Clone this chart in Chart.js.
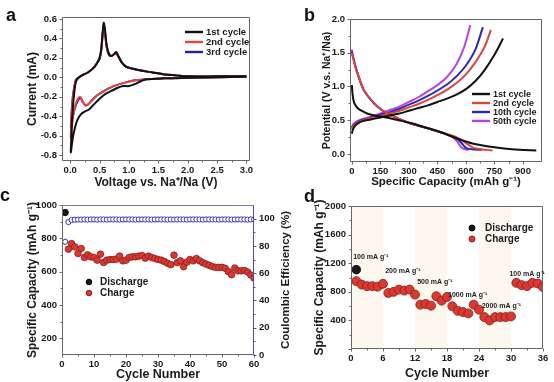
<!DOCTYPE html>
<html><head><meta charset="utf-8">
<script src="https://cdn.jsdelivr.net/npm/chart.js@4.4.1/dist/chart.umd.min.js"></script>
<style>
html,body{margin:0;padding:0;background:#fff;}
#wrap{position:relative;width:554px;height:382px;overflow:hidden;background:#fff;}
canvas{position:absolute;}
.lbl{position:absolute;font:bold 18px "Liberation Sans",Arial,sans-serif;color:#111;line-height:20px;}
</style></head><body>
<div id="wrap">
<canvas id="ca" width="277" height="191" style="left:0;top:0"></canvas>
<canvas id="cb" width="277" height="191" style="left:277px;top:0"></canvas>
<canvas id="cd" width="258" height="191" style="left:296px;top:191px"></canvas>
<canvas id="cc" width="300" height="191" style="left:0;top:191px"></canvas>
<div class="lbl" style="left:6px;top:5px">a</div>
<div class="lbl" style="left:304px;top:5px">b</div>
<div class="lbl" style="left:0px;top:185px">c</div>
<div class="lbl" style="left:304px;top:186px">d</div>
</div>
<script>
// ---------- Panel a: CV curves ----------
const cvV1 = [3.0, 2.5, 2.0, 1.6, 1.3, 1.2, 1.1, 1.0, 0.9, 0.8, 0.7, 0.6, 0.5, 0.4, 0.32, 0.25, 0.18, 0.12, 0.08, 0.05, 0.03, 0.01,
              0.02, 0.04, 0.07, 0.1, 0.15, 0.2, 0.3, 0.4, 0.45, 0.5, 0.53, 0.55, 0.57, 0.59, 0.62, 0.66, 0.7, 0.75, 0.78, 0.82, 0.88, 0.95, 1.05, 1.2, 1.4, 1.6, 1.8, 2.0, 2.5, 3.0];
const cvI1 = [0.005, 0.0, -0.005, -0.01, -0.02, -0.04, -0.07, -0.09, -0.09, -0.11, -0.14, -0.17, -0.22, -0.28, -0.33, -0.35, -0.38, -0.44, -0.52, -0.6, -0.68, -0.77,
              -0.6, -0.35, -0.15, -0.04, 0.0, 0.02, 0.05, 0.1, 0.14, 0.2, 0.3, 0.45, 0.56, 0.5, 0.33, 0.24, 0.22, 0.24, 0.26, 0.22, 0.15, 0.11, 0.09, 0.07, 0.05, 0.03, 0.02, 0.01, 0.01, 0.01];
const cvV2 = [3.0, 2.5, 2.0, 1.6, 1.3, 1.1, 0.9, 0.7, 0.55, 0.45, 0.35, 0.3, 0.25, 0.2, 0.17, 0.13, 0.09, 0.05, 0.03, 0.01,
              0.02, 0.04, 0.07, 0.1, 0.15, 0.2, 0.3, 0.4, 0.45, 0.5, 0.53, 0.55, 0.57, 0.59, 0.62, 0.66, 0.7, 0.75, 0.78, 0.82, 0.88, 0.95, 1.05, 1.2, 1.4, 1.6, 1.8, 2.0, 2.5, 3.0];
const cvI2 = [0.005, 0.0, -0.005, -0.01, -0.02, -0.03, -0.06, -0.1, -0.15, -0.19, -0.25, -0.28, -0.28, -0.24, -0.2, -0.22, -0.28, -0.4, -0.5, -0.62,
              -0.45, -0.25, -0.1, -0.03, 0.0, 0.02, 0.05, 0.1, 0.14, 0.2, 0.3, 0.44, 0.54, 0.48, 0.32, 0.24, 0.22, 0.24, 0.25, 0.21, 0.15, 0.11, 0.09, 0.07, 0.05, 0.03, 0.02, 0.01, 0.01, 0.01];
const cvV3 = [3.0, 2.5, 2.0, 1.6, 1.3, 1.1, 0.9, 0.7, 0.55, 0.45, 0.35, 0.3, 0.26, 0.21, 0.18, 0.14, 0.1, 0.06, 0.03, 0.01,
              0.02, 0.04, 0.07, 0.1, 0.15, 0.2, 0.3, 0.4, 0.45, 0.5, 0.53, 0.55, 0.57, 0.59, 0.62, 0.66, 0.7, 0.75, 0.78, 0.82, 0.88, 0.95, 1.05, 1.2, 1.4, 1.6, 1.8, 2.0, 2.5, 3.0];
const cvI3 = [0.005, 0.0, -0.005, -0.01, -0.02, -0.03, -0.06, -0.1, -0.15, -0.19, -0.25, -0.28, -0.29, -0.25, -0.21, -0.23, -0.28, -0.36, -0.45, -0.52,
              -0.4, -0.22, -0.09, -0.02, 0.0, 0.02, 0.05, 0.1, 0.14, 0.19, 0.28, 0.42, 0.52, 0.46, 0.31, 0.23, 0.22, 0.24, 0.25, 0.21, 0.15, 0.11, 0.09, 0.07, 0.05, 0.03, 0.02, 0.01, 0.01, 0.01];
const aXTicks = [0, 0.5, 1.0, 1.5, 2.0, 2.5, 3.0];
const aYTicks = [-0.8, -0.6, -0.4, -0.2, 0.0, 0.2, 0.4, 0.6];

// ---------- Panel b: charge/discharge profiles ----------
const b1DisCap = [0, 3, 8, 15, 30, 50, 80, 120, 160, 200, 260, 320, 400, 480, 560, 640, 720, 800, 880, 970];
const b1DisV   = [1.02, 0.9, 0.8, 0.74, 0.68, 0.64, 0.6, 0.57, 0.55, 0.53, 0.49, 0.45, 0.38, 0.31, 0.22, 0.15, 0.11, 0.08, 0.06, 0.05];
const b1ChgCap = [0, 5, 15, 30, 60, 100, 150, 200, 250, 300, 350, 400, 450, 500, 550, 600, 650, 700, 750, 795];
const b1ChgV   = [0.30, 0.36, 0.41, 0.45, 0.49, 0.51, 0.54, 0.57, 0.6, 0.64, 0.68, 0.72, 0.77, 0.82, 0.88, 0.96, 1.08, 1.25, 1.47, 1.71];
const b2DisCap = [0, 4, 10, 20, 35, 60, 100, 135, 185, 240, 310, 400, 480, 540, 580, 610, 640, 680, 740];
const b2DisV   = [1.50, 1.45, 1.38, 1.27, 1.15, 0.96, 0.8, 0.7, 0.6, 0.53, 0.45, 0.38, 0.31, 0.26, 0.2, 0.14, 0.09, 0.07, 0.05];
const b2ChgCap = [0, 5, 15, 30, 60, 100, 150, 200, 250, 300, 350, 400, 450, 500, 550, 600, 650, 700, 731];
const b2ChgV   = [0.36, 0.4, 0.43, 0.46, 0.5, 0.53, 0.56, 0.6, 0.64, 0.69, 0.74, 0.8, 0.87, 0.95, 1.05, 1.18, 1.36, 1.6, 1.84];
const b10DisCap = [0, 4, 10, 20, 35, 60, 100, 135, 185, 240, 310, 400, 480, 530, 560, 580, 600, 630, 684];
const b10DisV   = [1.52, 1.46, 1.39, 1.28, 1.15, 0.96, 0.8, 0.7, 0.6, 0.53, 0.45, 0.38, 0.31, 0.26, 0.21, 0.15, 0.09, 0.07, 0.06];
const b10ChgCap = [0, 5, 15, 30, 60, 100, 150, 200, 250, 300, 350, 400, 450, 500, 550, 600, 650, 689];
const b10ChgV   = [0.38, 0.41, 0.44, 0.47, 0.51, 0.54, 0.58, 0.62, 0.67, 0.73, 0.79, 0.86, 0.94, 1.03, 1.15, 1.31, 1.55, 1.88];
const b50DisCap = [0, 4, 10, 20, 35, 60, 100, 135, 185, 240, 310, 400, 480, 530, 555, 575, 595, 615];
const b50DisV   = [1.55, 1.47, 1.4, 1.28, 1.15, 0.96, 0.8, 0.7, 0.6, 0.53, 0.45, 0.38, 0.31, 0.25, 0.18, 0.1, 0.07, 0.06];
const b50ChgCap = [0, 5, 15, 30, 60, 100, 150, 200, 250, 300, 350, 400, 450, 500, 550, 590, 623];
const b50ChgV   = [0.40, 0.43, 0.46, 0.49, 0.52, 0.55, 0.6, 0.65, 0.7, 0.77, 0.84, 0.93, 1.02, 1.14, 1.33, 1.58, 1.91];
const bXTicks = [0, 150, 300, 450, 600, 750, 900];
const bYTicks = [0.0, 0.5, 1.0, 1.5, 2.0];

// ---------- Panel c: cycling at 100 mA/g ----------
const cCycles = [1,2,3,4,5,6,7,8,9,10,11,12,13,14,15,16,17,18,19,20,21,22,23,24,25,26,27,28,29,30,
                 31,32,33,34,35,36,37,38,39,40,41,42,43,44,45,46,47,48,49,50,51,52,53,54,55,56,57,58,59,60];
const cDischarge = [955];
const cCharge = [null, 735, 768, 749, 709, 739, 685, 701, 689, 685, 669, 705, 655, 669, 673, 673, 675, 693, 665, 669,
                 685, 689, 689, 693, 697, 681, 693, 685, 679, 673, 669, 661, 650, 642, 699, 654, 665, 630, 657, 673,
                 665, 679, 665, 654, 646, 638, 630, 626, 626, 626, 620, 600, 582, 622, 605, 605, 607, 598, 580, 562];
const cCE = [83, 97.5, 99.0, 99.2, 99.3, 99.3, 99.4, 99.3, 99.4, 99.4, 99.3, 99.4, 99.4, 99.3, 99.4, 99.4, 99.4, 99.3, 99.4, 99.4,
             99.4, 99.4, 99.3, 99.4, 99.4, 99.4, 99.4, 99.3, 99.4, 99.4, 99.4, 99.4, 99.3, 99.4, 99.3, 99.4, 99.4, 99.4, 99.3, 99.4,
             99.4, 99.4, 99.4, 99.3, 99.4, 99.4, 99.4, 99.4, 99.3, 99.4, 99.4, 99.4, 99.3, 99.4, 99.4, 99.4, 99.4, 99.3, 99.4, 99.4];
const cXTicks = [0, 10, 20, 30, 40, 50, 60];
const cYTicks = [200, 400, 600, 800, 1000];
const cY1Ticks = [0, 20, 40, 60, 80, 100];

// ---------- Panel d: rate capability ----------
const dCycles = [1,2,3,4,5,6,7,8,9,10,11,12,13,14,15,16,17,18,19,20,21,22,23,24,25,26,27,28,29,30,31,32,33,34,35,36];
const dDischarge = [1110];
const dCharge = [949, 901, 879, 879, 872, 911, 784, 799, 831, 817, 831, 761, 620, 630, 606, 738, 676, 728, 597, 535,
                 517, 498, 620, 550, 446, 400, 446, 446, 446, 456, 925, 893, 879, 925, 916, 865];
const dRates = ['100 mA g⁻¹', '200 mA g⁻¹', '500 mA g⁻¹', '1000 mA g⁻¹', '2000 mA g⁻¹', '100 mA g⁻¹'];
const dRateAt = [[0.4, 1280], [6.4, 1094], [12.4, 939], [18.2, 756], [24.5, 601], [29.7, 1052]];
const dBands = [[0, 6], [12, 18], [24, 30]];
const dXTicks = [0, 6, 12, 18, 24, 30, 36];
const dYTicks = [0, 400, 800, 1200, 1600, 2000];

// ---------- helpers / plugins ----------
const FONT = '"Liberation Sans", Arial, Helvetica, sans-serif';
Chart.defaults.font.family = FONT;
Chart.defaults.font.weight = 'bold';
Chart.defaults.color = '#1a1a1a';
Chart.defaults.animation = false;

const pts = (xs, ys) => xs.map((x, i) => ({x: x, y: ys[i]}));
const setTicks = arr => s => { s.ticks = arr.map(v => ({value: v})); };

const framePlugin = {
  id: 'frame',
  beforeDatasetsDraw(chart, args, o) {
    if (!o.bands) return;
    const {ctx, chartArea: ca, scales} = chart;
    ctx.save();
    ctx.fillStyle = o.bandColor;
    o.bands.forEach(b => {
      const x0 = scales.x.getPixelForValue(b[0]), x1 = scales.x.getPixelForValue(b[1]);
      ctx.fillRect(x0, ca.top, x1 - x0, ca.bottom - ca.top);
    });
    ctx.restore();
  },
  afterDatasetsDraw(chart, args, o) {
    const {ctx, chartArea: ca} = chart;
    ctx.save();
    ctx.lineWidth = 1;
    const L = Math.round(ca.left) + 0.5, R = Math.round(ca.right) - 0.5, T = Math.round(ca.top) + 0.5, B = Math.round(ca.bottom) - 0.5;
    const line = (x0, y0, x1, y1, c) => { ctx.strokeStyle = c; ctx.beginPath(); ctx.moveTo(x0, y0); ctx.lineTo(x1, y1); ctx.stroke(); };
    const col = o.color || '#555';
    line(L, T, R, T, o.topColor || col);
    line(L, B, R, B, col);
    line(L, T, L, B, col);
    line(R, T, R, B, o.rightColor || col);
    Object.values(chart.scales).forEach(s => {
      const c = (s.position === 'right' && o.rightColor) ? o.rightColor : col;
      const vals = s.ticks.map(t => t.value);
      const minors = [];
      for (let i = 0; i < vals.length - 1; i++) minors.push((vals[i] + vals[i + 1]) / 2);
      const draw = (v, len) => {
        const p = Math.round(s.getPixelForValue(v)) + 0.5;
        if (s.axis === 'x') line(p, B, p, B + len, c);
        else if (s.position === 'left') line(L, p, L - len, p, c);
        else line(R, p, R + len, p, c);
      };
      vals.forEach(v => draw(v, 3));
      minors.forEach(v => draw(v, 2));
    });
    ctx.restore();
  },
  afterDraw(chart, args, o) {
    const {ctx, chartArea: ca, scales} = chart;
    ctx.save();
    if (o.legend) {
      const lg = o.legend;
      ctx.font = 'bold ' + lg.size + 'px ' + FONT;
      ctx.textBaseline = 'middle';
      ctx.textAlign = 'left';
      lg.items.forEach((di, i) => {
        const ds = chart.data.datasets[di];
        const x = ca.left + lg.x, y = ca.top + lg.y + i * lg.dy;
        if (lg.type === 'line') {
          ctx.strokeStyle = ds.borderColor; ctx.lineWidth = 2.4;
          ctx.beginPath(); ctx.moveTo(x, y); ctx.lineTo(x + lg.w, y); ctx.stroke();
        } else {
          ctx.fillStyle = ds.pointBackgroundColor; ctx.strokeStyle = ds.pointBorderColor; ctx.lineWidth = 1;
          ctx.beginPath(); ctx.arc(x, y, lg.r, 0, Math.PI * 2); ctx.fill(); ctx.stroke();
        }
        ctx.fillStyle = '#1a1a1a';
        ctx.fillText(ds.label, x + lg.tx, y + 0.5);
      });
    }
    if (o.notes) {
      ctx.font = 'bold 7px ' + FONT;
      ctx.fillStyle = '#222';
      ctx.textAlign = 'left';
      ctx.textBaseline = 'middle';
      o.notes.texts.forEach((t, i) => {
        const p = o.notes.at[i];
        ctx.fillText(t, scales.x.getPixelForValue(p[0]), scales.y.getPixelForValue(p[1]));
      });
    }
    if (o.rightTitle) {
      const rt = o.rightTitle;
      ctx.font = 'bold ' + rt.size + 'px ' + FONT;
      ctx.fillStyle = '#1a1a1a';
      ctx.textAlign = 'center';
      ctx.textBaseline = 'middle';
      ctx.translate(rt.x, (ca.top + ca.bottom) / 2);
      ctx.rotate(-Math.PI / 2);
      ctx.fillText(rt.text, 0, 0);
    }
    ctx.restore();
  }
};
Chart.register(framePlugin);

function axis(opts) {
  const o = {
    type: 'linear', min: opts.min, max: opts.max,
    afterBuildTicks: setTicks(opts.ticks),
    grid: {display: false, drawTicks: false},
    border: {display: false},
    ticks: {padding: opts.pad, font: {size: 9.5, weight: 'bold'}, color: '#1a1a1a', maxRotation: 0, autoSkip: false,
            callback: opts.fmt || (v => String(v))},
    title: {display: !!opts.title, text: opts.title || '', font: {size: opts.tsize || 12, weight: 'bold'}, color: '#1a1a1a', padding: opts.tpad || 0}
  };
  if (opts.position) o.position = opts.position;
  if (opts.width !== undefined) o.afterFit = s => { s.width = opts.width; };
  if (opts.height !== undefined) o.afterFit = s => { s.height = opts.height; };
  return o;
}
const baseOpts = (padding, scales, frame) => ({
  responsive: false, maintainAspectRatio: false, events: [], devicePixelRatio: 1,
  layout: {padding: padding},
  plugins: {legend: {display: false}, tooltip: {enabled: false}, frame: frame},
  scales: scales
});
const lineDs = (label, xs, ys, color) => ({label: label, data: pts(xs, ys), showLine: true, borderColor: color,
  backgroundColor: color, borderWidth: 2, pointRadius: 0, tension: 0.3, fill: false});

// ---------- Chart a ----------
new Chart('ca', {
  type: 'scatter',
  data: {datasets: [
    lineDs('1st cycle', cvV1, cvI1, '#111111'),
    lineDs('2nd cycle', cvV2, cvI2, '#e8463c'),
    lineDs('3rd cycle', cvV3, cvI3, '#1e1ea6')
  ]},
  options: baseOpts({top: 17, right: 27, left: 0, bottom: 0}, {
    x: axis({min: -0.14, max: 3.06, ticks: aXTicks, pad: 4, height: 30, fmt: v => v.toFixed(1),
             title: 'Voltage vs. Na⁺/Na (V)', tpad: {top: 0, bottom: 0.8}}),
    y: axis({min: -0.86, max: 0.62, ticks: aYTicks, pad: 5, width: 62, fmt: v => v.toFixed(1),
             title: 'Current (mA)', tpad: {top: 25.8, bottom: 0}})
  }, {color: '#666', legend: {type: 'line', items: [0, 1, 2], x: 123, y: 15, dy: 10, w: 18, tx: 21, size: 9.5}})
});

// ---------- Chart b ----------
new Chart('cb', {
  type: 'scatter',
  data: {datasets: [
    lineDs('1st cycle', b1ChgCap, b1ChgV, '#111111'),
    lineDs('1st cycle', b1DisCap, b1DisV, '#111111'),
    lineDs('2nd cycle', b2ChgCap, b2ChgV, '#d8463c'),
    lineDs('2nd cycle', b2DisCap, b2DisV, '#d8463c'),
    lineDs('10th cycle', b10ChgCap, b10ChgV, '#2a2ab4'),
    lineDs('10th cycle', b10DisCap, b10DisV, '#2a2ab4'),
    lineDs('50th cycle', b50ChgCap, b50ChgV, '#b843e0'),
    lineDs('50th cycle', b50DisCap, b50DisV, '#b843e0')
  ]},
  options: baseOpts({top: 19, right: 12, left: 0, bottom: 0}, {
    x: axis({min: -10, max: 1000, ticks: bXTicks, pad: 4, height: 29, tsize: 11.5,
             title: 'Specific Capacity (mAh g⁻¹)', tpad: {top: 0, bottom: 2.1}}),
    y: axis({min: -0.12, max: 2.0, ticks: bYTicks, pad: 5, width: 73, fmt: v => v.toFixed(1), tsize: 10.5,
             title: 'Potential (V v.s. Na⁺/Na)', tpad: {top: 44, bottom: 0}})
  }, {color: '#666', legend: {type: 'line', items: [0, 2, 4, 6], x: 122, y: 75, dy: 9, w: 18, tx: 21, size: 9}})
});

// ---------- Chart c ----------
const RED = '#d83a32', REDB = '#8a1c1c', BLK = '#1a1a1a';
new Chart('cc', {
  type: 'scatter',
  data: {datasets: [
    {label: 'Discharge', data: pts(cCycles.slice(0, cDischarge.length), cDischarge), pointRadius: 3.2,
     pointBackgroundColor: BLK, pointBorderColor: '#000', pointBorderWidth: 0.8, yAxisID: 'y'},
    {label: 'Charge', data: pts(cCycles, cCharge), pointRadius: 3.3,
     pointBackgroundColor: RED, pointBorderColor: REDB, pointBorderWidth: 0.8, yAxisID: 'y'},
    {label: 'Coulombic Efficiency', data: pts(cCycles, cCE), pointRadius: 2.6,
     pointBackgroundColor: '#ffffff', pointBorderColor: '#3535b0', pointBorderWidth: 1, yAxisID: 'y1'}
  ]},
  options: baseOpts({top: 14, right: 0, left: 0, bottom: 0}, {
    x: axis({min: 0, max: 60, ticks: cXTicks, pad: 4, height: 27, title: 'Cycle Number', tsize: 12.5,
             tpad: {top: 0, bottom: 0.3}}),
    y: axis({min: 100, max: 1000, ticks: cYTicks, pad: 5, width: 62, position: 'left',
             title: 'Specific Capacity (mAh g⁻¹)', tpad: {top: 25.8, bottom: 0}}),
    y1: axis({min: 0, max: 110, ticks: cY1Ticks, pad: 5, width: 46, position: 'right'})
  }, {color: '#666', topColor: '#7a7ab0', rightColor: '#4a4ab8',
      rightTitle: {text: 'Coulombic Efficiency (%)', x: 286, size: 11.5},
      legend: {type: 'dot', items: [0, 1], x: 27, y: 77, dy: 11, r: 2.8, tx: 11, size: 10}})
});

// ---------- Chart d ----------
new Chart('cd', {
  type: 'scatter',
  data: {datasets: [
    {label: 'Discharge', data: pts(dCycles.slice(0, dDischarge.length), dDischarge), pointRadius: 4.3,
     pointBackgroundColor: BLK, pointBorderColor: '#000', pointBorderWidth: 0.8},
    {label: 'Charge', data: pts(dCycles, dCharge), pointRadius: 4.5,
     pointBackgroundColor: RED, pointBorderColor: REDB, pointBorderWidth: 0.8}
  ]},
  options: baseOpts({top: 15, right: 11, left: 0, bottom: 0}, {
    x: axis({min: 0, max: 36, ticks: dXTicks, pad: 4, height: 33, title: 'Cycle Number', tsize: 12.5,
             tpad: {top: 0, bottom: 1.3}}),
    y: axis({min: 0, max: 2000, ticks: dYTicks, pad: 5, width: 55, fmt: v => (v === 0 ? '' : String(v)),
             title: 'Specific Capacity (mAh g⁻¹)', tpad: {top: 16.8, bottom: 0}})
  }, {color: '#666', bands: dBands, bandColor: '#fdf8ee',
      legend: {type: 'dot', items: [0, 1], x: 121, y: 22, dy: 11, r: 3, tx: 13, size: 10},
      notes: {texts: dRates, at: dRateAt}})
});
</script>
</body></html>
